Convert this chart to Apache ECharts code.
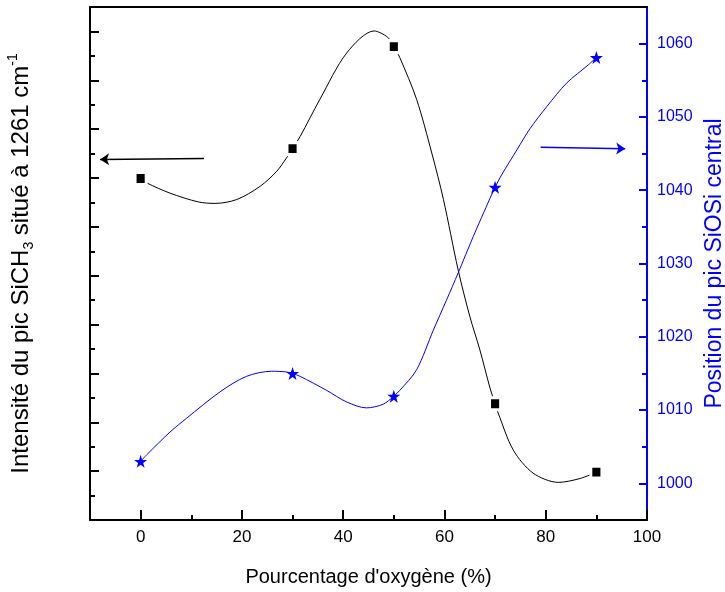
<!DOCTYPE html>
<html>
<head>
<meta charset="utf-8">
<script src="https://cdn.jsdelivr.net/npm/echarts@6/dist/echarts.min.js"></script>
<style>
  html, body { margin: 0; padding: 0; background: #fff; }
  #chart { width: 725px; height: 592px; }
</style>
</head>
<body>
<div id="chart"></div>
<script>
// mesures (points)
var oxygen = [0, 30, 50, 70, 90];
var intensity = [6.99, 7.60, 9.69, 2.38, 0.98];
var position = [1003.0, 1015.0, 1011.9, 1040.4, 1058.1];

// courbes
var intensityCurve = [[0, 6.99], [1.2, 6.90], [5.8, 6.69], [11.4, 6.51], [14.7, 6.48], [19.0, 6.56],
  [23.6, 6.83], [26.9, 7.14], [28.8, 7.41], [30, 7.60], [31.5, 7.85], [35.4, 8.61], [40.7, 9.56],
  [46.1, 10.01], [48.8, 9.88], [50, 9.69], [51.2, 9.46], [54.5, 8.61], [57.5, 7.51], [59.8, 6.56],
  [62.7, 5.12], [65.0, 4.17], [67.0, 3.48], [69.0, 2.70], [70, 2.38], [70.6, 2.19], [73.6, 1.43],
  [77.5, 0.96], [82.5, 0.77], [86.8, 0.85], [90, 0.98]];
var positionCurve = [[0, 1003.0], [1.2, 1003.9], [5.8, 1007.0], [9.1, 1008.9], [15.7, 1012.5],
  [20.9, 1014.6], [25.9, 1015.3], [28.8, 1015.2], [30, 1015.0], [31.5, 1014.6], [36.7, 1012.7],
  [40.7, 1011.1], [44.6, 1010.3], [47.9, 1010.8], [50, 1011.9], [51.2, 1012.7], [54.5, 1015.5],
  [57.8, 1020.9], [60.4, 1025.0], [62.7, 1028.7], [65.7, 1033.7], [69.0, 1038.9], [70, 1040.4],
  [71.3, 1042.1], [74.3, 1045.5], [76.9, 1048.4], [80.2, 1051.4], [84.1, 1054.6], [88.4, 1057.1],
  [90, 1058.1]];

// ticks
var xMajor = [0, 20, 40, 60, 80, 100];
var xMinor = [10, 30, 50, 70, 90];
var leftMajor = [0, 1, 2, 3, 4, 5, 6, 7, 8, 9, 10];
var leftMinor = [0.5, 1.5, 2.5, 3.5, 4.5, 5.5, 6.5, 7.5, 8.5, 9.5];
var rightMajor = [1000, 1010, 1020, 1030, 1040, 1050, 1060];
var rightMinor = [1005, 1015, 1025, 1035, 1045, 1055];

// fleches
var leftArrow = [[12.5, 7.40], [-8.0, 7.38]];
var rightArrow = [[79.0, 1045.85], [95.7, 1045.66]];

var FONT = 'Liberation Sans, Arial, sans-serif';
var BLUE = '#0000ff';
var STAR = 'path://M50,0 L61.8,35.1 L98.1,35.1 L68.8,56.7 L79.4,91 L50,70 L20.6,91 L31.2,56.7 L1.9,35.1 L38.2,35.1 Z';

var myChart = echarts.init(document.getElementById('chart'));

function plain(v) {
    return String(v);
}

function tickAxis(extra) {
    return Object.assign({
        axisLine: {show: false, onZero: false},
        axisLabel: {show: false},
        splitLine: {show: false}
    }, extra);
}

myChart.setOption({
    animation: false,
    backgroundColor: '#fff',
    grid: {left: 90, right: 78, top: 7, bottom: 72, outerBoundsMode: 'none', containLabel: false},
    xAxis: [{
        type: 'value', position: 'bottom', min: -10, max: 100,
        name: "Pourcentage d'oxygène (%)",
        nameLocation: 'middle', nameGap: 47,
        nameTextStyle: {fontFamily: FONT, fontSize: 20, color: '#000'},
        axisLine: {onZero: false, lineStyle: {color: '#000', width: 2}},
        axisTick: {inside: true, length: 10, lineStyle: {color: '#000', width: 2}, customValues: xMajor},
        axisLabel: {fontFamily: FONT, fontSize: 17, color: '#000', margin: 9, customValues: xMajor, formatter: plain},
        splitLine: {show: false}
    }, tickAxis({
        type: 'value', position: 'bottom', min: -10, max: 100,
        axisTick: {inside: true, length: 5, lineStyle: {color: '#000', width: 2}, customValues: xMinor}
    }), {
        type: 'value', position: 'top', min: -10, max: 100,
        axisLine: {onZero: false, lineStyle: {color: '#000', width: 2}},
        axisTick: {show: false}, axisLabel: {show: false}, splitLine: {show: false}
    }],
    yAxis: [{
        type: 'value', position: 'left', min: 0, max: 10.5,
        name: '{n|Intensité du pic SiCH}{s|3}{n| situé à 1261 cm}{p|-1}',
        nameLocation: 'middle', nameGap: 54,
        nameTextStyle: {
            color: '#000',
            rich: {
                n: {fontFamily: FONT, fontSize: 24, lineHeight: 30, color: '#000'},
                s: {fontFamily: FONT, fontSize: 14, verticalAlign: 'bottom', color: '#000'},
                p: {fontFamily: FONT, fontSize: 14, verticalAlign: 'top', color: '#000'}
            }
        },
        axisLine: {onZero: false, lineStyle: {color: '#000', width: 2}},
        axisTick: {inside: true, length: 9, lineStyle: {color: '#000', width: 2}, customValues: leftMajor},
        axisLabel: {show: false},
        splitLine: {show: false}
    }, tickAxis({
        type: 'value', position: 'left', min: 0, max: 10.5,
        axisTick: {inside: true, length: 5, lineStyle: {color: '#000', width: 2}, customValues: leftMinor}
    }), {
        type: 'value', position: 'right', min: 995, max: 1065,
        name: 'Position du pic SiOSi central',
        nameLocation: 'middle', nameGap: 54,
        nameTextStyle: {fontFamily: FONT, fontSize: 23, color: BLUE},
        axisLine: {onZero: false, lineStyle: {color: BLUE, width: 2}},
        axisTick: {inside: true, length: 8, lineStyle: {color: BLUE, width: 2}, customValues: rightMajor},
        axisLabel: {fontFamily: FONT, fontSize: 16, color: BLUE, margin: 10, customValues: rightMajor, formatter: plain},
        splitLine: {show: false}
    }, tickAxis({
        type: 'value', position: 'right', min: 995, max: 1065,
        axisTick: {inside: true, length: 5, lineStyle: {color: BLUE, width: 2}, customValues: rightMinor}
    })],
    series: [{
        type: 'line', xAxisIndex: 0, yAxisIndex: 0,
        data: intensityCurve, smooth: 0.3, showSymbol: false, silent: true,
        lineStyle: {color: '#000', width: 1},
        markLine: {
            silent: true, symbol: ['none', 'arrow'], symbolSize: 9,
            label: {show: false},
            lineStyle: {color: '#000', width: 1.5, type: 'solid'},
            data: [[{coord: leftArrow[0]}, {coord: leftArrow[1]}]]
        }
    }, {
        type: 'line', xAxisIndex: 0, yAxisIndex: 2,
        data: positionCurve, smooth: 0.3, showSymbol: false, silent: true,
        lineStyle: {color: BLUE, width: 1},
        markLine: {
            silent: true, symbol: ['none', 'arrow'], symbolSize: 9,
            label: {show: false},
            lineStyle: {color: BLUE, width: 1.5, type: 'solid'},
            data: [[{coord: rightArrow[0]}, {coord: rightArrow[1]}]]
        }
    }, {
        type: 'scatter', xAxisIndex: 0, yAxisIndex: 0,
        data: oxygen.map(function (x, i) { return [x, intensity[i]]; }),
        symbol: 'rect', symbolSize: [11, 12],
        itemStyle: {color: '#000', borderColor: '#fff', borderWidth: 3, opacity: 1},
        z: 5
    }, {
        type: 'scatter', xAxisIndex: 0, yAxisIndex: 2,
        data: oxygen.map(function (x, i) { return [x, position[i]]; }),
        symbol: STAR, symbolSize: 13,
        itemStyle: {color: BLUE, opacity: 1},
        z: 5
    }]
});
</script>
</body>
</html>
